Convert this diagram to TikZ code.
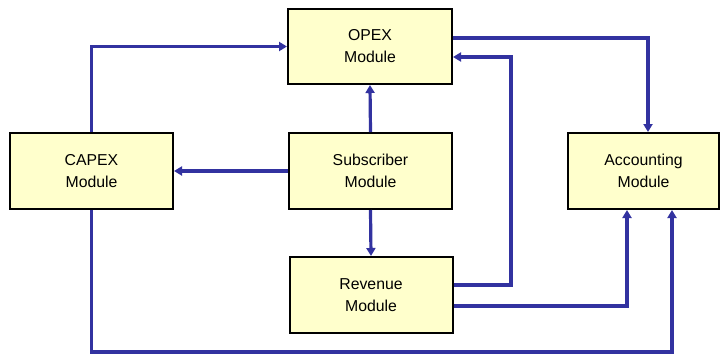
\documentclass[tikz,border=0pt]{standalone}
\usepackage{fontspec}
\setmainfont{Liberation Sans}
\usetikzlibrary{arrows.meta,calc}
\definecolor{conn}{RGB}{50,50,160}
\definecolor{boxfill}{RGB}{255,255,204}
\tikzset{
  module/.style={draw=black, line width=2pt, fill=boxfill, inner sep=0pt,
    align=center, font=\fontsize{15.8}{22}\selectfont},
  link/.style={draw=conn, line width=3.2pt, -{Triangle[length=8pt,width=9pt]}},
}
\begin{document}
\begin{tikzpicture}[x=1pt,y=-1pt]
\useasboundingbox (0,0) rectangle (721,356);
\node[module, minimum width=164pt, minimum height=75pt] (opex) at (370,46.5) {OPEX\\Module};
\node[module, minimum width=163pt, minimum height=76pt] (capex) at (91.5,171) {CAPEX\\Module};
\node[module, minimum width=163pt, minimum height=76pt] (sub) at (370.5,171) {Subscriber\\Module};
\node[module, minimum width=163pt, minimum height=76pt] (rev) at (371,295) {Revenue\\Module};
\node[module, minimum width=151pt, minimum height=76pt] (acc) at (643.5,171) {Accounting\\Module};
\coordinate (r1) at (511,0);
\coordinate (r2) at (627,0);
\coordinate (bot) at (0,352);
\coordinate (c2) at (672,0);
\coordinate (opexin) at ([yshift=-10.5pt]opex.east);
\coordinate (opexout) at ([yshift=8.5pt]opex.east);
\coordinate (revout1) at ([yshift=10pt]rev.east);
\coordinate (revout2) at ([yshift=-11pt]rev.east);
\draw[link] (sub.north) -- (opex.south);
\draw[link] (sub.south) -- (rev.north);
\draw[link] (sub.west) -- (capex.east);
\draw[link] (capex.north) |- (opex.west);
\draw[link] (opexout) -| ([xshift=4.5pt]acc.north);
\draw[link] (revout1) -| (r1 |- opexin) -- (opexin);
\draw[link] (revout2) -| (r2 |- acc.south);
\draw[link] (capex.south) |- (bot -| c2) -- (c2 |- acc.south);
\end{tikzpicture}
\end{document}
